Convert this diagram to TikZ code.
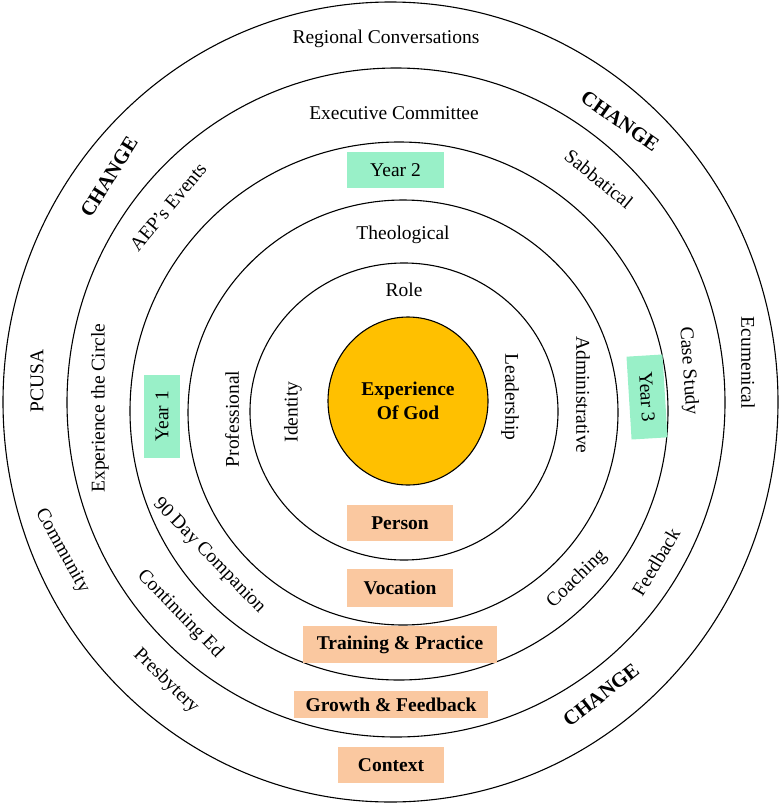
\documentclass[tikz,border=0pt]{standalone}
\usepackage{fontspec}
\setmainfont{Liberation Serif}
\usetikzlibrary{shapes.geometric}

\definecolor{godgold}{RGB}{255,192,0}
\definecolor{yearmint}{RGB}{153,240,200}
\definecolor{stagepeach}{RGB}{250,200,160}

\begin{document}
\begin{tikzpicture}[
    x=1pt, y=-1pt,
    ring/.style={ellipse, draw=black, line width=1.1pt, inner sep=0pt},
    god/.style={ring, fill=godgold, align=center, font=\fontsize{19.5}{24}\selectfont\bfseries},
    tag/.style={inner sep=0pt, font=\fontsize{19.5}{24}\selectfont},
    change/.style={inner sep=0pt, font=\fontsize{20.5}{24}\selectfont\bfseries},
    yearbox/.style={rectangle, fill=yearmint, minimum width=97, minimum height=36, font=\fontsize{19.5}{24}\selectfont},
    stagebox/.style={rectangle, fill=stagepeach, minimum width=106, minimum height=36, font=\fontsize{19.5}{24}\selectfont\bfseries}
]
\useasboundingbox (0,0) rectangle (780,806);

% Rings
\node[ring, minimum width=775, minimum height=800] (outer) at (390.5,402) {};
\node[ring, minimum width=658, minimum height=669] (circle) at (396,402.5) {};
\node[ring, minimum width=538, minimum height=538] (years) at (399,411) {};
\node[ring, minimum width=430, minimum height=425] (vocring) at (403,412.5) {};
\node[ring, minimum width=308, minimum height=297] (personring) at (404,411.5) {};
\node[god, minimum width=160, minimum height=168] (god) at (408,401) {Experience\\Of God};

% Top labels
\node[tag] (regional) at (386,39) {Regional Conversations};
\node[tag] (exec) at (394,113) {Executive Committee};
\node[yearbox] (year2) at (395.5,170) {Year 2};
\node[tag] (theo) at (403,235) {Theological};
\node[tag] (role) at (404,290) {Role};

% Left side
\node[tag, rotate=90] (identity) at (293,412) {Identity};
\node[tag, rotate=90] (prof) at (232,419) {Professional};
\node[yearbox, rotate=90, minimum width=83] (year1) at (162,416.5) {Year 1};
\node[tag, rotate=90] (expcircle) at (100,408) {Experience the Circle};
\node[tag, rotate=90] (pcusa) at (37,381) {PCUSA};

% Right side
\node[tag, rotate=-90] (lead) at (510,397) {Leadership};
\node[tag, rotate=-90] (admin) at (583,395) {Administrative};
\node[yearbox, rotate=-86.5, minimum width=83] (year3) at (647,397) {Year 3};
\node[tag, rotate=-86] (casestudy) at (688,371) {Case Study};
\node[tag, rotate=-90] (ecum) at (748,363) {Ecumenical};

% Slanted labels
\node[change, rotate=58] (changetl) at (109,177) {CHANGE};
\node[tag, rotate=50] (aep) at (168,207) {AEP’s Events};
\node[change, rotate=-35] (changetr) at (620,121) {CHANGE};
\node[tag, rotate=-39] (sabb) at (599,179) {Sabbatical};
\node[tag, rotate=-46] (companion) at (209,556) {90 Day Companion};
\node[tag, rotate=-46] (contin) at (180,614) {Continuing Ed};
\node[tag, rotate=-61] (commun) at (62,551) {Community};
\node[tag, rotate=-44] (presb) at (166,681) {Presbytery};
\node[tag, rotate=44] (coach) at (577,579) {Coaching};
\node[tag, rotate=59] (feedb) at (656,562) {Feedback};
\node[change, rotate=38] (changebr) at (601,695) {CHANGE};

% Stages
\node[stagebox] (person) at (400,523) {Person};
\node[stagebox, minimum height=38] (vocation) at (400,588) {Vocation};
\node[stagebox, minimum width=194, minimum height=37] (training) at (400,644.5) {Training \& Practice};
\node[stagebox, minimum width=194, minimum height=27] (growth) at (391,704.5) {Growth \& Feedback};
\node[stagebox] (context) at (391,765) {Context};

\end{tikzpicture}
\end{document}
